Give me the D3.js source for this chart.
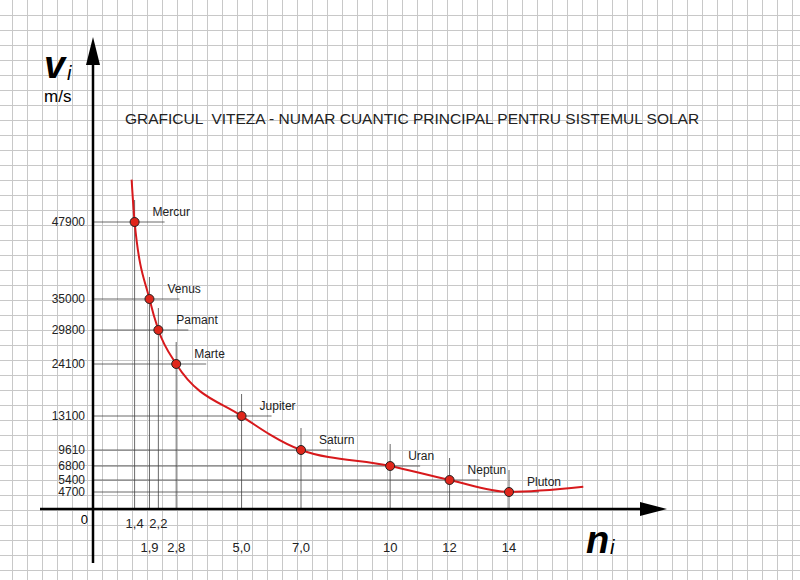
<!DOCTYPE html><html><head><meta charset="utf-8"><script src="https://cdn.jsdelivr.net/npm/d3@7"></script>
<style>body{margin:0;background:#fff}</style></head><body><svg id="c" width="800" height="580"></svg>
<script>
const planets=["Mercur","Venus","Pamant","Marte","Jupiter","Saturn","Uran","Neptun","Pluton"];
const nVals=[1.4,1.9,2.2,2.8,5.0,7.0,10,12,14];
const vVals=[47900,35000,29800,24100,13100,9610,6800,5400,4700];
const xTickLabels=["1,4","1,9","2,2","2,8","5,0","7,0","10","12","14"];
const yTickLabels=["47900","35000","29800","24100","13100","9610","6800","5400","4700"];
const svg=d3.select("#c"),F="Liberation Sans, Arial, sans-serif";
for(let gx=12.5;gx<800;gx+=15)svg.append("line").attr("x1",gx).attr("x2",gx).attr("y1",0).attr("y2",580).attr("stroke","#c8c8c8").attr("stroke-width",1);
for(let gy=15.5;gy<580;gy+=15)svg.append("line").attr("y1",gy).attr("y2",gy).attr("x1",0).attr("x2",800).attr("stroke","#c8c8c8").attr("stroke-width",1);
const x=d3.scaleLinear().domain([0,14]).range([93,509]);
const y=d3.scaleLinear().domain([0,4700,5400,6800,9610,13100,24100,29800,35000,47900]).range([509,492,480,466,450,416,364,330,299,222]);
nVals.forEach((n,i)=>{const px=x(n),py=y(vVals[i]);
 svg.append("line").attr("x1",px).attr("x2",px).attr("y1",509).attr("y2",py-22).attr("stroke","#444").attr("stroke-width",0.8);
 svg.append("line").attr("x1",93).attr("x2",px+30).attr("y1",py).attr("y2",py).attr("stroke","#444").attr("stroke-width",0.8);
 svg.append("text").attr("x",px+18).attr("y",py-6).text(planets[i]).attr("font-family",F).attr("font-size",12).attr("fill","#222");
 svg.append("text").attr("x",85).attr("y",py+4).attr("text-anchor","end").text(yTickLabels[i]).attr("font-family",F).attr("font-size",12).attr("fill","#222");
 const row=(i==0||i==2)?528:552;
 svg.append("text").attr("x",px).attr("y",row).attr("text-anchor","middle").text(xTickLabels[i]).attr("font-family",F).attr("font-size",13).attr("fill","#222");
});
const curvePts=[[1.3,55000]].concat(nVals.map((n,i)=>[n,vVals[i]])).concat([[16.5,5000]]);
svg.append("path").attr("d",d3.line().x(d=>x(d[0])).y(d=>y(d[1])).curve(d3.curveMonotoneX)(curvePts)).attr("fill","none").attr("stroke","#d7191c").attr("stroke-width",2);
nVals.forEach((n,i)=>svg.append("circle").attr("cx",x(n)).attr("cy",y(vVals[i])).attr("r",4.5).attr("fill","#e0261b").attr("stroke","#222").attr("stroke-width",1));
svg.append("line").attr("x1",93).attr("x2",93).attr("y1",60).attr("y2",563).attr("stroke","#000").attr("stroke-width",2.5);
svg.append("path").attr("d","M93,37 L86,65 L100,65 Z").attr("fill","#000");
svg.append("line").attr("x1",40).attr("x2",645).attr("y1",509).attr("y2",509).attr("stroke","#000").attr("stroke-width",2.5);
svg.append("path").attr("d","M667,509 L640,502 L640,516 Z").attr("fill","#000");
svg.append("text").attr("x",88).attr("y",524).attr("text-anchor","end").text("0").attr("font-family",F).attr("font-size",13);
svg.append("text").attr("x",44).attr("y",78).text("v").attr("font-family",F).attr("font-size",38).attr("font-weight","bold").attr("font-style","italic");
svg.append("text").attr("x",67).attr("y",80).text("i").attr("font-family",F).attr("font-size",20).attr("font-style","italic");
svg.append("text").attr("x",44).attr("y",102).text("m/s").attr("font-family",F).attr("font-size",17);
svg.append("text").attr("x",586).attr("y",553).text("n").attr("font-family",F).attr("font-size",38).attr("font-weight","bold").attr("font-style","italic");
svg.append("text").attr("x",610).attr("y",554).text("i").attr("font-family",F).attr("font-size",20).attr("font-style","italic");
svg.append("text").attr("x",125).attr("y",124).text("GRAFICUL  VITEZA - NUMAR CUANTIC PRINCIPAL PENTRU SISTEMUL SOLAR").attr("font-family",F).attr("font-size",15.5).attr("fill","#222").style("white-space","pre");
</script></body></html>
